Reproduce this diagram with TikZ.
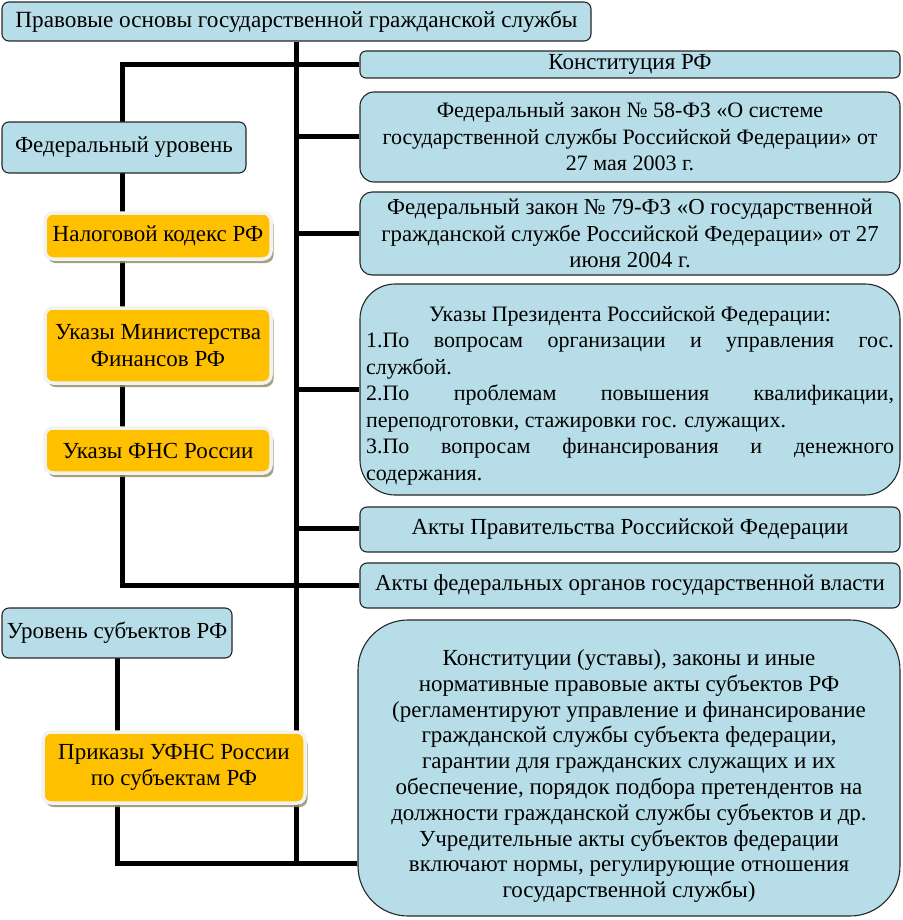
\documentclass[tikz,border=0pt]{standalone}
\usepackage{fontspec}
\setmainfont{Liberation Serif}
\usetikzlibrary{shadows}
\pgfdeclarelayer{background}
\pgfsetlayers{background,main}
\definecolor{lb}{HTML}{B7DEE8}
\definecolor{org}{HTML}{FFC000}
\definecolor{shd}{RGB}{150,142,110}
\definecolor{ring}{RGB}{242,242,238}
\newcommand\fsz[1]{\fontsize{#1pt}{26.5pt}\selectfont}
\newcommand\bnode[7]{\node[#2, minimum width={(#5-#3)*1pt}, minimum height={(#6-#4)*1pt}] (#1) at ({(#3+#5)/2},{(#4+#6)/2}) {#7};}
\tikzset{
  bx/.style={draw=black!85, line width=1.1pt, fill=lb, rounded corners=7pt, inner sep=0pt, align=center, font=\fsz{23}},
  ob/.style={fill=org, draw=ring, line width=3.5pt, rounded corners=8pt, inner sep=0pt, align=center, font=\fsz{23},
    drop shadow={shadow xshift=2.5pt, shadow yshift=-4pt, fill=shd, opacity=0.85}},
  txt/.style={inner sep=0pt, align=center},
  ln/.style={line width=5pt},
}
\begin{document}
\begin{tikzpicture}[x=1pt,y=-1pt]
\useasboundingbox (0,0) rectangle (902,920);
\coordinate (bot) at (296,863);
\coordinate (fL) at (122,65);
\coordinate (fB) at (122,585);
\coordinate (sT) at (117,650);
\coordinate (sB) at (117,863);
\coordinate (j1) at (296,137);
\coordinate (j2) at (296,233);
\coordinate (j3) at (296,389);
\coordinate (j4) at (296,528);
% boxes
\bnode{title}{bx, font=\fsz{23.2}}{2}{2}{591}{41}{Правовые основы государственной гражданской службы}
\bnode{konst}{bx, rounded corners=6pt}{360}{51}{900}{78}{Конституция РФ}
\bnode{fz58}{bx, rounded corners=14pt, font=\fsz{22}}{360}{92}{900}{182}{Федеральный закон № 58-ФЗ «О системе\\государственной службы Российской Федерации» от\\27 мая 2003 г.}
\bnode{fz79}{bx, rounded corners=12pt, font=\fsz{22.8}}{360}{192}{900}{275}{Федеральный закон № 79-ФЗ «О государственной\\гражданской службе Российской Федерации» от 27\\июня 2004 г.}
\bnode{prez}{bx, rounded corners=35pt}{360}{284}{900}{495}{}
\bnode{prav}{bx}{360}{507}{900}{552}{Акты Правительства Российской Федерации}
\bnode{fedorg}{bx, font=\fsz{22.9}}{360}{563}{900}{608}{Акты федеральных органов государственной власти}
\bnode{subj}{bx, rounded corners=50pt}{358}{620}{900}{916}{}
\bnode{fed}{bx}{2}{122}{246}{173}{Федеральный уровень}
\bnode{urov}{bx}{2}{608}{232}{658}{Уровень субъектов РФ}
\bnode{nalog}{ob}{45}{213}{271}{259}{Налоговой кодекс РФ}
\bnode{minfin}{ob}{45}{308}{271}{383}{Указы Министерства\\Финансов РФ}
\bnode{fns}{ob}{45}{428}{271}{473}{Указы ФНС России}
\bnode{prik}{ob}{43}{732}{305}{803}{Приказы УФНС России\\по субъектам РФ}
% texts of the large boxes
\node[txt, align=left, font=\fsz{22}, yshift=-6pt] (prezt) at (prez.center) {\makebox[528pt]{Указы Президента Российской Федерации:}\\
\makebox[528pt][s]{1.По вопросам организации и управления гос.}\\
службой.\\
\makebox[528pt][s]{2.По проблемам повышения квалификации,}\\
переподготовки, стажировки гос. служащих.\\
\makebox[528pt][s]{3.По вопросам финансирования и денежного}\\
содержания.};
\node[txt, font={\fontsize{23pt}{25.8pt}\selectfont}, yshift=-8pt] (subjt) at (subj.center) {Конституции (уставы), законы и иные\\нормативные правовые акты субъектов РФ\\(регламентируют управление и финансирование\\гражданской службы субъекта федерации,\\гарантии для гражданских служащих и их\\обеспечение, порядок подбора претендентов на\\должности гражданской службы субъектов и др.\\Учредительные акты субъектов федерации\\включают нормы, регулирующие отношения\\государственной службы)};
% connectors, behind the boxes
\begin{pgfonlayer}{background}
\draw[ln] (title.center |- bot) -- (bot) -- (title.south -| bot);
\draw[ln] (fed.center -| fL) -- (fL) -- (konst.west |- fL);
\draw[ln] (fed.center -| fL) -- (fB) -- (fedorg.west |- fB);
\draw[ln] (j1) -- (fz58.west |- j1);
\draw[ln] (j2) -- (fz79.west |- j2);
\draw[ln] (j3) -- (prez.west |- j3);
\draw[ln] (j4) -- (prav.west |- j4);
\draw[ln] (urov.center -| sT) -- (sB) -- (subj.west |- sB);
\end{pgfonlayer}
\end{tikzpicture}
\end{document}
